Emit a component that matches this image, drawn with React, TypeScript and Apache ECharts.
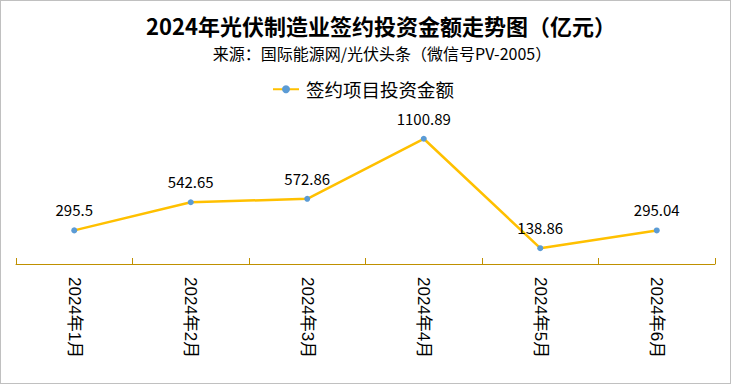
import React, { useEffect, useRef } from "react";
import * as echarts from "echarts";

const categories = ["2024年1月", "2024年2月", "2024年3月", "2024年4月", "2024年5月", "2024年6月"];
const values = [295.5, 542.65, 572.86, 1100.89, 138.86, 295.04];
const seriesName = "签约项目投资金额";
const titleText = "2024年光伏制造业签约投资金额走势图（亿元）";
const subtitleText = "来源：国际能源网/光伏头条（微信号PV-2005）";

const FONT = "'Noto Sans CJK SC', 'Noto Sans', sans-serif";
const AXIS_FONT = "'Liberation Sans', 'Noto Sans CJK SC', sans-serif";

export default function App() {
  const ref = useRef<HTMLDivElement>(null);
  useEffect(() => {
    document.body.style.margin = "0";
    const chart = echarts.init(ref.current!, undefined, { renderer: "svg" });
    chart.setOption({
      animation: false,
      backgroundColor: "#ffffff",
      textStyle: { fontFamily: FONT },
      title: [
        {
          text: titleText,
          left: 375,
          textAlign: "center",
          top: 8,
          textStyle: { fontSize: 22, fontWeight: "bold", color: "#000", fontFamily: FONT },
        },
        {
          text: subtitleText,
          left: 376,
          textAlign: "center",
          top: 39,
          textStyle: { fontSize: 16, fontWeight: "normal", color: "#000", fontFamily: FONT },
        },
      ],
      legend: {
        data: [seriesName],
        top: 74,
        left: 266,
        itemWidth: 26,
        itemHeight: 10,
        textStyle: { fontSize: 18.5, color: "#000", fontFamily: FONT, padding: [0, 0, 0, 2] },
      },
      grid: { left: 15, right: 15, top: 126.5, bottom: 119, containLabel: false },
      xAxis: {
        type: "category",
        data: categories,
        boundaryGap: true,
        axisLine: { show: true, lineStyle: { color: "#BF9000", width: 1 } },
        axisTick: { show: true, inside: true, length: 6, lineStyle: { color: "#BF9000" } },
        axisLabel: {
          rotate: -90,
          margin: 13,
          fontSize: 17,
          color: "#000",
          fontFamily: AXIS_FONT,
          interval: 0,
        },
      },
      yAxis: {
        type: "value",
        min: 0,
        max: 1200,
        show: false,
        splitLine: { show: false },
      },
      series: [
        {
          name: seriesName,
          type: "line",
          data: values,
          symbol: "circle",
          symbolSize: 6,
          lineStyle: { color: "#FFC000", width: 2.5 },
          itemStyle: { color: "#5B9BD5" },
          label: {
            show: true,
            position: "top",
            distance: 10,
            fontSize: 15,
            color: "#000",
            fontFamily: FONT,
          },
        },
      ],
    });
    return () => chart.dispose();
  }, []);
  return (
    <div
      style={{
        position: "absolute",
        left: 0,
        top: 0,
        width: 731,
        height: 384,
        boxSizing: "border-box",
        border: "1px solid #c0c0c0",
        background: "#fff",
      }}
    >
      <div ref={ref} style={{ width: 729, height: 382 }} />
    </div>
  );
}
